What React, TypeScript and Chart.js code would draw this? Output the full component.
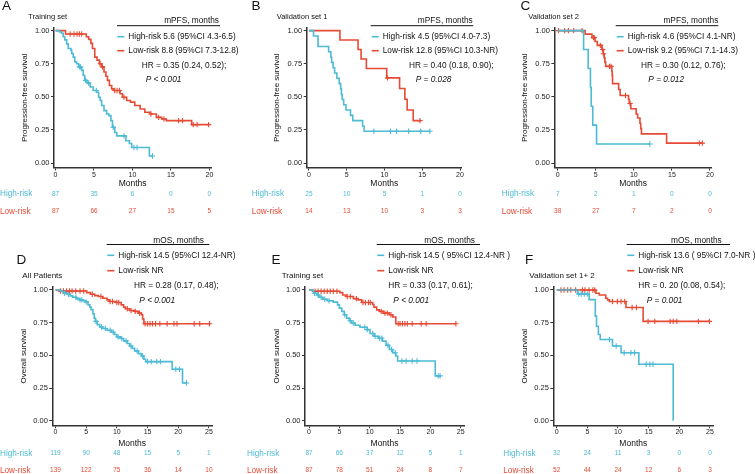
import React, { useEffect, useRef } from "react";
import { Chart, registerables } from "chart.js";
Chart.register(...registerables);

const HIGH = "#4DBBD5";
const LOW = "#E64B35";
const FF = "'Liberation Sans', Arial, Helvetica, sans-serif";

// ---------- shared tick values ----------
const topMonthTicks = [0, 5, 10, 15, 20];
const bottomMonthTicks = [0, 5, 10, 15, 20, 25];
const survTicks = [0, 0.25, 0.5, 0.75, 1];

// ---------- Panel A : Training set, PFS ----------
const aHighTime = [0.5, 0.8, 1.0, 1.2, 1.45, 1.65, 2.0, 2.1, 2.3, 2.5, 2.75, 3.0, 3.4, 3.6, 3.8, 4.1, 4.5, 4.9, 5.35, 5.6, 5.8, 6.0, 6.3, 6.65, 6.95, 7.2, 7.4, 7.7, 7.95, 9.15, 9.6, 9.9, 12.2, 12.6];
const aHighSurv = [0.99, 0.98, 0.954, 0.93, 0.9, 0.865, 0.853, 0.827, 0.8, 0.764, 0.75, 0.726, 0.7, 0.662, 0.624, 0.604, 0.574, 0.548, 0.535, 0.497, 0.472, 0.434, 0.396, 0.37, 0.358, 0.32, 0.27, 0.23, 0.205, 0.168, 0.147, 0.117, 0.053, 0.053];
const aHighCens = [3.1, 3.25, 3.9, 4.3, 5.3, 7.5, 8.9, 10.2, 10.6, 12.6];
const aLowTime = [1.3, 4.0, 4.3, 4.6, 4.8, 5.1, 5.4, 5.7, 6.0, 6.3, 6.55, 6.75, 7.0, 7.3, 7.6, 8.4, 8.7, 9.25, 9.75, 10.3, 11.0, 11.6, 12.3, 13.1, 13.8, 14.4, 17.7, 19.9];
const aLowSurv = [0.975, 0.954, 0.934, 0.904, 0.865, 0.8, 0.777, 0.75, 0.726, 0.688, 0.655, 0.624, 0.586, 0.56, 0.548, 0.523, 0.497, 0.472, 0.46, 0.434, 0.408, 0.383, 0.37, 0.345, 0.332, 0.32, 0.29, 0.29];
const aLowCens = [1.9, 2.4, 2.8, 3.1, 3.4, 5.8, 6.1, 7.7, 8.0, 8.3, 8.9, 12.4, 13.4, 14.1, 16.0, 16.5, 17.9, 18.4, 19.9];
const aRiskHigh = [87, 35, 6, 0, 0];
const aRiskLow = [87, 66, 27, 15, 5];

// ---------- Panel B : Validation set 1, PFS ----------
const bHighTime = [0.6, 1.2, 2.6, 2.9, 3.0, 3.2, 3.4, 3.7, 4.0, 4.2, 4.3, 4.4, 4.6, 4.9, 5.5, 5.8, 7.1, 7.3, 16.0];
const bHighSurv = [0.96, 0.88, 0.84, 0.8, 0.76, 0.72, 0.68, 0.64, 0.6, 0.56, 0.52, 0.48, 0.44, 0.4, 0.36, 0.32, 0.28, 0.24, 0.24];
const bHighCens = [8.6, 10.8, 11.6, 13.2, 14.8, 16.0];
const bLowTime = [4.1, 6.5, 6.9, 7.6, 10.3, 12.0, 12.7, 13.0, 13.8, 14.7];
const bLowSurv = [0.929, 0.857, 0.786, 0.714, 0.643, 0.563, 0.482, 0.4, 0.32, 0.32];
const bLowCens = [10.4, 14.7];
const bRiskHigh = [25, 10, 5, 1, 0];
const bRiskLow = [14, 13, 10, 3, 3];

// ---------- Panel C : Validation set 2, PFS ----------
const cHighTime = [3.4, 4.0, 4.3, 4.4, 4.6, 5.1, 12.1];
const cHighSurv = [0.857, 0.714, 0.571, 0.429, 0.286, 0.143, 0.143];
const cHighCens = [12.1];
const cLowTime = [3.6, 4.5, 4.9, 5.2, 5.8, 6.0, 6.1, 6.2, 6.3, 7.1, 7.15, 7.2, 8.0, 8.2, 9.3, 9.4, 9.6, 10.3, 10.5, 10.8, 10.9, 11.0, 14.3, 19.0];
const cLowSurv = [0.974, 0.947, 0.918, 0.889, 0.857, 0.825, 0.794, 0.762, 0.73, 0.695, 0.66, 0.6, 0.555, 0.51, 0.48, 0.45, 0.41, 0.37, 0.34, 0.3, 0.26, 0.22, 0.15, 0.15];
const cLowCens = [0.1, 0.9, 1.4, 2.1, 3.2, 4.7, 4.8, 5.6, 5.9, 6.0, 6.8, 7.0, 8.9, 9.5, 18.6, 19.0];
const cRiskHigh = [7, 2, 1, 0, 0];
const cRiskLow = [38, 27, 7, 2, 0];

// ---------- Panel D : All patients, OS ----------
const dHighTime = [0.65, 1.1, 1.5, 2.0, 2.4, 2.8, 3.4, 3.9, 4.5, 4.9, 5.3, 5.6, 5.8, 6.1, 6.3, 6.5, 6.8, 7.2, 7.7, 8.4, 9.1, 9.6, 10.0, 10.6, 11.1, 11.7, 12.1, 12.5, 12.9, 13.5, 14.0, 14.4, 14.7, 19.0, 20.7, 21.35];
const dHighSurv = [0.995, 0.987, 0.975, 0.967, 0.955, 0.944, 0.934, 0.924, 0.917, 0.907, 0.886, 0.869, 0.85, 0.818, 0.785, 0.76, 0.735, 0.717, 0.705, 0.692, 0.677, 0.66, 0.641, 0.629, 0.611, 0.591, 0.571, 0.553, 0.533, 0.513, 0.495, 0.47, 0.452, 0.394, 0.288, 0.288];
const dHighCens = [1.5, 2.1, 3.3, 4.0, 4.3, 5.0, 6.6, 7.5, 8.1, 8.9, 9.4, 10.2, 10.8, 11.5, 12.3, 13.3, 14.2, 15.0, 15.6, 16.5, 17.1, 19.6, 20.2, 21.35];
const dLowTime = [0.55, 5.1, 5.7, 6.4, 7.0, 7.7, 8.4, 8.8, 9.8, 10.7, 11.1, 11.4, 12.1, 12.9, 13.5, 14.0, 14.2, 14.4, 25.1];
const dLowSurv = [0.992, 0.98, 0.967, 0.957, 0.95, 0.937, 0.924, 0.912, 0.904, 0.886, 0.869, 0.856, 0.843, 0.836, 0.823, 0.81, 0.778, 0.742, 0.742];
const dLowCens = [0.8, 1.3, 1.8, 2.3, 2.7, 3.3, 4.0, 4.6, 6.0, 7.4, 8.9, 9.3, 10.0, 10.3, 11.7, 12.3, 13.0, 13.7, 14.6, 15.0, 15.4, 15.8, 16.3, 17.0, 18.2, 19.3, 19.8, 22.6, 23.5, 25.1];
const dRiskHigh = [119, 90, 48, 15, 5, 1];
const dRiskLow = [139, 122, 75, 36, 14, 10];

// ---------- Panel E : Training set, OS ----------
const eHighTime = [0.55, 0.8, 1.3, 1.65, 2.25, 3.0, 4.0, 4.7, 5.0, 5.4, 5.8, 6.2, 6.65, 7.0, 7.6, 8.4, 9.6, 10.05, 10.7, 11.4, 12.1, 12.7, 13.25, 13.8, 14.3, 14.6, 20.8, 21.6];
const eHighSurv = [0.995, 0.975, 0.962, 0.944, 0.929, 0.917, 0.907, 0.886, 0.861, 0.836, 0.81, 0.785, 0.765, 0.747, 0.73, 0.715, 0.697, 0.667, 0.646, 0.631, 0.609, 0.576, 0.545, 0.52, 0.495, 0.457, 0.343, 0.343];
const eHighCens = [0.9, 1.5, 2.0, 2.6, 3.3, 5.9, 6.8, 7.3, 9.2, 9.6, 10.5, 10.9, 11.6, 12.0, 13.0, 13.6, 14.2, 15.3, 16.0, 17.0, 17.8, 21.3, 21.6];
const eLowTime = [0.6, 5.1, 5.55, 6.1, 7.3, 8.1, 8.7, 10.5, 10.7, 11.15, 11.6, 12.25, 13.25, 13.8, 14.3, 24.2];
const eLowSurv = [0.99, 0.98, 0.962, 0.95, 0.934, 0.924, 0.904, 0.889, 0.869, 0.848, 0.836, 0.823, 0.81, 0.793, 0.742, 0.742];
const eLowCens = [1.0, 1.5, 2.0, 2.5, 3.0, 3.5, 4.0, 4.6, 6.3, 6.8, 7.8, 8.9, 9.3, 9.8, 10.1, 11.9, 12.5, 12.9, 13.5, 14.7, 15.0, 15.4, 15.8, 16.2, 17.0, 18.5, 19.3, 24.2];
const eRiskHigh = [87, 66, 37, 12, 5, 1];
const eRiskLow = [87, 78, 51, 24, 8, 7];

// ---------- Panel F : Validation set 1+2, OS ----------
const fHighTime = [3.4, 5.3, 6.3, 6.5, 6.8, 7.1, 9.1, 10.5, 13.4, 19.0];
const fHighSurv = [0.969, 0.926, 0.8, 0.722, 0.66, 0.621, 0.571, 0.52, 0.432, 0];
const fHighCens = [3.6, 4.0, 4.5, 5.0, 8.6, 9.7, 11.0, 12.1, 12.7, 14.6, 15.2, 15.7];
const fLowTime = [6.4, 6.95, 8.0, 8.3, 8.6, 11.3, 14.1, 24.9];
const fLowSurv = [0.975, 0.962, 0.937, 0.924, 0.912, 0.866, 0.76, 0.76];
const fLowCens = [0.7, 1.2, 1.8, 2.3, 3.1, 4.2, 4.6, 5.3, 5.9, 6.2, 9.1, 9.9, 10.5, 11.1, 12.3, 13.0, 14.9, 16.0, 18.5, 19.0, 19.6, 23.1, 24.9];
const fRiskHigh = [32, 24, 11, 3, 0, 0];
const fRiskLow = [52, 44, 24, 12, 6, 3];

// ---------- helpers ----------
function survAt(times: number[], survs: number[], t: number) {
  let s = 1;
  for (let i = 0; i < times.length; i++) if (times[i] <= t) s = survs[i];
  return s;
}

const TOP = { top: 28, bottom: 167.5, yMin: -0.034, yMax: 1.02, yW: 34.3, xH: 21.6, xTickLen: 3, xTickPad: 0.5,
  riskHighY: 194, riskLowY: 211.7, headingY: 20.7, ruleY: 25.7, highY: 36.7, lowY: 50.7, hrY: 65.7, pY: 80,
  letterY: 6, titleY: 17.3, titleSize: 7.5, yTitle: "Progression-free survival", heading: "mPFS, months", xTicks: topMonthTicks };
const BOT = { top: 286.7, bottom: 425.7, yMin: -0.038, yMax: 1.025, yW: 33, xH: 22.7, xTickLen: 2.5, xTickPad: 0,
  riskHighY: 453.3, riskLowY: 470.7, headingY: 240.7, ruleY: 244.5, highY: 255.3, lowY: 270.7, hrY: 285.7, pY: 300.7,
  letterY: 260.7, titleY: 275.7, titleSize: 8, yTitle: "Overall survival", heading: "mOS, months", xTicks: bottomMonthTicks };

const panels = [
  { ...TOP, letter: "A", title: "Training set", left: 54, right: 211.3, xMin: -0.2, xMax: 20.25,
    letterX: 2, titleX: 28.3, headingRight: 219, ruleL: 117, ruleR: 220, legendX: 128.3, hrX: 141.7, pX: 145.7, riskX: 0,
    highLabel: "High-risk 5.6 (95%CI 4.3-6.5)", lowLabel: "Low-risk 8.8 (95%CI 7.3-12.8)", hr: "HR = 0.35 (0.24, 0.52);", p: "P < 0.001",
    high: [aHighTime, aHighSurv, aHighCens], low: [aLowTime, aLowSurv, aLowCens], riskHigh: aRiskHigh, riskLow: aRiskLow },
  { ...TOP, letter: "B", title: "Validation set 1", left: 306.7, right: 461.9, xMin: -0.3, xMax: 20.25,
    letterX: 251.5, titleX: 276.7, headingRight: 472.7, ruleL: 370.7, ruleR: 473.3, legendX: 382.7, hrX: 409, pX: 415.7, riskX: 251.7,
    highLabel: "High-risk 4.5 (95%CI 4.0-7.3)", lowLabel: "Low-risk 12.8 (95%CI 10.3-NR)", hr: "HR = 0.40 (0.18, 0.90);", p: "P = 0.028",
    high: [bHighTime, bHighSurv, bHighCens], low: [bLowTime, bLowSurv, bLowCens], riskHigh: bRiskHigh, riskLow: bRiskLow },
  { ...TOP, letter: "C", title: "Validation set 2", left: 554.3, right: 711.9, xMin: -0.45, xMax: 20.25,
    letterX: 520.5, titleX: 528.3, headingRight: 718.3, ruleL: 615.7, ruleR: 718.3, legendX: 627.7, hrX: 641, pX: 648.3, riskX: 501.7,
    highLabel: "High-risk 4.6 (95%CI 4.1-NR)", lowLabel: "Low-risk 9.2 (95%CI 7.1-14.3)", hr: "HR = 0.30 (0.12, 0.76);", p: "P = 0.012",
    high: [cHighTime, cHighSurv, cHighCens], low: [cLowTime, cLowSurv, cLowCens], riskHigh: cRiskHigh, riskLow: cRiskLow },
  { ...BOT, letter: "D", title: "All Patients", left: 52.3, right: 212, xMin: -0.52, xMax: 25.5,
    letterX: 16.5, titleX: 22.3, headingRight: 204, ruleL: 106.7, ruleR: 209.3, legendX: 118.3, hrX: 134, pX: 139.3, riskX: 0,
    highLabel: "High-risk 14.5 (95%CI 12.4-NR)", lowLabel: "Low-risk NR", hr: "HR = 0.28 (0.17, 0.48);", p: "P < 0.001",
    high: [dHighTime, dHighSurv, dHighCens], low: [dLowTime, dLowSurv, dLowCens], riskHigh: dRiskHigh, riskLow: dRiskLow },
  { ...BOT, letter: "E", title: "Training set", left: 305, right: 464, xMin: -0.66, xMax: 25.54,
    letterX: 271.5, titleX: 281.7, headingRight: 475, ruleL: 376.7, ruleR: 480, legendX: 388.3, hrX: 388.3, pX: 393.3, riskX: 247,
    highLabel: "High-risk 14.5 ( 95%CI 12.4-NR )", lowLabel: "Low-risk NR", hr: "HR = 0.33 (0.17, 0.61);", p: "P < 0.001",
    high: [eHighTime, eHighSurv, eHighCens], low: [eLowTime, eLowSurv, eLowCens], riskHigh: eRiskHigh, riskLow: eRiskLow },
  { ...BOT, letter: "F", title: "Validation set 1+ 2", left: 553.3, right: 713.3, xMin: -0.55, xMax: 25.54,
    letterX: 525, titleX: 529.3, headingRight: 721.7, ruleL: 626.7, ruleR: 730, legendX: 638.3, hrX: 638.3, pX: 646.7, riskX: 503.3,
    highLabel: "High-risk 13.6 ( 95%CI 7.0-NR )", lowLabel: "Low-risk NR", hr: "HR = 0. 20 (0.08, 0.54);", p: "P = 0.001",
    high: [fHighTime, fHighSurv, fHighCens], low: [fLowTime, fLowSurv, fLowCens], riskHigh: fRiskHigh, riskLow: fRiskLow },
];

function annotations(s: any) {
  return {
    id: "annot" + s.letter,
    afterDraw(chart: any) {
      const ctx = chart.ctx;
      const xs = chart.scales.x;
      ctx.save();
      const txt = (t: string, x: number, y: number, size: number, color = "#111", align = "left", style = "") => {
        ctx.font = `${style} ${size}px ${FF}`;
        ctx.fillStyle = color;
        ctx.textAlign = align;
        ctx.textBaseline = "middle";
        ctx.fillText(t, x, y);
      };
      const seg = (x1: number, x2: number, y: number, color: string, w: number) => {
        ctx.beginPath();
        ctx.strokeStyle = color;
        ctx.lineWidth = w;
        ctx.moveTo(x1, y);
        ctx.lineTo(x2, y);
        ctx.stroke();
      };
      txt(s.letter, s.letterX, s.letterY, 13.5, "#111");
      txt(s.title, s.titleX, s.titleY, s.titleSize, "#111");
      txt(s.heading, s.headingRight, s.headingY, 8.3, "#111", "right");
      seg(s.ruleL, s.ruleR, s.ruleY, "#111", 1);
      seg(s.legendX - 11, s.legendX - 4, s.highY, HIGH, 1.6);
      txt(s.highLabel, s.legendX, s.highY, 8.3, "#111");
      seg(s.legendX - 11, s.legendX - 4, s.lowY, LOW, 1.6);
      txt(s.lowLabel, s.legendX, s.lowY, 8.3, "#111");
      txt(s.hr, s.hrX, s.hrY, 8.3, "#111");
      txt(s.p, s.pX, s.pY, 8.3, "#111", "left", "italic");
      // risk table
      txt("High-risk", s.riskX, s.riskHighY, 8.2, HIGH);
      txt("Low-risk", s.riskX, s.riskLowY, 8.2, LOW);
      s.xTicks.forEach((t: number, i: number) => {
        const px = xs.getPixelForValue(t);
        txt(String(s.riskHigh[i]), px, s.riskHighY, 6.5, HIGH, "center");
        txt(String(s.riskLow[i]), px, s.riskLowY, 6.5, LOW, "center");
      });
      ctx.restore();
    },
  };
}

function buildConfig(s: any) {
  const curve = (g: number[][]) => [{ x: 0, y: 1 }, ...g[0].map((t, i) => ({ x: t, y: g[1][i] }))];
  const marks = (g: number[][]) => g[2].map((t) => ({ x: t, y: survAt(g[0], g[1], t) }));
  const lineDs = (data: any, color: string) => ({
    data, borderColor: color, backgroundColor: color, borderWidth: 1.6, stepped: "before",
    pointRadius: 0, fill: false, clip: false, tension: 0,
  });
  const censDs = (data: any, color: string) => ({
    data, showLine: false, pointStyle: "cross", pointRadius: 2.7, pointBorderColor: color,
    pointBackgroundColor: color, pointBorderWidth: 1.1, borderColor: color, clip: false,
  });
  return {
    type: "line",
    data: {
      datasets: [
        lineDs(curve(s.high), HIGH),
        lineDs(curve(s.low), LOW),
        censDs(marks(s.high), HIGH),
        censDs(marks(s.low), LOW),
      ],
    },
    options: {
      animation: false,
      responsive: false,
      events: [],
      layout: { padding: { left: s.left - s.yW, right: 755 - s.right, top: s.top, bottom: 474 - s.bottom - s.xH } },
      plugins: { legend: { display: false }, tooltip: { enabled: false }, title: { display: false } },
      scales: {
        x: {
          type: "linear", position: "bottom", min: s.xMin, max: s.xMax,
          afterBuildTicks: (sc: any) => { sc.ticks = s.xTicks.map((v: number) => ({ value: v })); },
          afterFit: (sc: any) => { sc.height = s.xH; },
          ticks: { font: { family: FF, size: 7 }, color: "#222", padding: s.xTickPad, maxRotation: 0, autoSkip: false, includeBounds: false, callback: (v: any) => String(v) },
          grid: { drawOnChartArea: false, drawTicks: true, tickLength: s.xTickLen, color: "#333", lineWidth: 1 },
          border: { display: true, color: "#333", width: 1.5 },
          title: { display: true, text: "Months", font: { family: FF, size: 8.5 }, color: "#111", padding: 0 },
        },
        y: {
          type: "linear", position: "left", min: s.yMin, max: s.yMax,
          afterBuildTicks: (sc: any) => { sc.ticks = survTicks.map((v) => ({ value: v })); },
          afterFit: (sc: any) => { sc.width = s.yW; },
          ticks: { font: { family: FF, size: 7.5 }, color: "#222", padding: 1.5, autoSkip: false, includeBounds: false, callback: (v: any) => Number(v).toFixed(2) },
          grid: { drawOnChartArea: false, drawTicks: true, tickLength: 3, color: "#333", lineWidth: 1 },
          border: { display: true, color: "#333", width: 1.5 },
          title: { display: true, text: s.yTitle, font: { family: FF, size: 8 }, color: "#111", padding: 0 },
        },
      },
    },
    plugins: [annotations(s)],
  };
}

function Panel({ spec }: { spec: any }) {
  const ref = useRef<HTMLCanvasElement>(null);
  useEffect(() => {
    const chart = new Chart(ref.current as HTMLCanvasElement, buildConfig(spec) as any);
    return () => chart.destroy();
  }, [spec]);
  return (
    <canvas ref={ref} width={755} height={474}
      style={{ position: "absolute", left: 0, top: 0, width: 755, height: 474 }} />
  );
}

export default function App() {
  return (
    <div style={{ position: "fixed", left: 0, top: 0, width: 755, height: 474, background: "#fff", overflow: "hidden" }}>
      {panels.map((p) => <Panel key={p.letter} spec={p} />)}
    </div>
  );
}
